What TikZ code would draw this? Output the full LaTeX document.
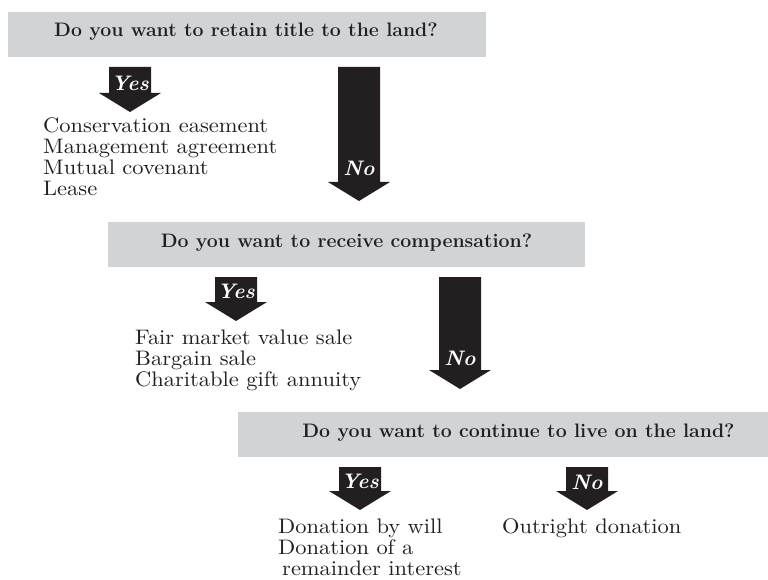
\documentclass[tikz,border=0pt]{standalone}
\usepackage{fontspec}
\usepackage{tikz}
\usetikzlibrary{calc,positioning}
\newfontfamily\listfont{lmroman10-regular.otf}[FakeStretch=1.07]
\definecolor{boxgray}{HTML}{D1D3D4}
\definecolor{ink}{HTML}{231F20}

% block arrow: top coord, tip coord, label name, label offset, label text
\newcommand{\answerarrow}[5]{%
  \fill[ink] let \p1=(#1), \p2=(#2) in
    (\x1-21pt,\y1) -- (\x1+21pt,\y1) -- (\x1+21pt,\y2+19pt) -- (\x1+31pt,\y2+19pt)
    -- (\x2,\y2) -- (\x1-31pt,\y2+19pt) -- (\x1-21pt,\y2+19pt) -- cycle;
  \node[anslabel] (#3) at ([yshift=-#4]#1) {#5};}

\begin{document}
\begin{tikzpicture}[x=1pt, y=-1pt,
    question/.style={fill=boxgray, inner sep=0pt, minimum height=45pt},
    qtext/.style={font=\fontsize{19.5}{22}\selectfont\bfseries, text=ink, anchor=base, inner sep=0pt},
    anslabel/.style={font=\fontsize{21}{24}\selectfont\bfseries\itshape, text=white, inner sep=0pt},
    options/.style={font=\listfont\fontsize{21}{21}\selectfont, text=ink, anchor=base west, inner sep=0pt}]
  \useasboundingbox (0,0) rectangle (768,580);

  % questions
  \node[question, minimum width=478pt] (q1) at (247,34.5) {};
  \node[qtext] (q1text) at (246,37) {Do you want to retain title to the land?};
  \node[question, minimum width=477pt] (q2) at (346.5,244.5) {};
  \node[qtext] (q2text) at (346.5,247) {Do you want to receive compensation?};
  \node[question, minimum width=530pt] (q3) at (503,434.5) {};
  \node[qtext] (q3text) at (518.5,437) {Do you want to continue to live on the land?};

  % answers
  \node[options] (keep) at (43,133) {\begin{tabular}[t]{@{}l@{}}Conservation easement\\ Management agreement\\ Mutual covenant\\ Lease\end{tabular}};
  \node[options] (paid) at (135,344) {\begin{tabular}[t]{@{}l@{}}Fair market value sale\\ Bargain sale\\ Charitable gift annuity\end{tabular}};
  \node[options] (stay) at (278,533) {\begin{tabular}[t]{@{}l@{}}Donation by will\\ Donation of a\\ \hspace{4pt}remainder interest\end{tabular}};
  \node[options] (leave) at (502,533) {Outright donation};

  % arrows
  \coordinate (y1top) at (130,67);  \coordinate (y1tip) at (130,112);
  \coordinate (n1top) at (359,67);  \coordinate (n1tip) at (359,201);
  \coordinate (y2top) at (236,277); \coordinate (y2tip) at (236,321);
  \coordinate (n2top) at (460,277); \coordinate (n2tip) at (460,389);
  \coordinate (y3top) at (360,467); \coordinate (y3tip) at (360,510);
  \coordinate (n3top) at (587,467); \coordinate (n3tip) at (587,510);
  \answerarrow{y1top}{y1tip}{y1}{16pt}{Yes}
  \answerarrow{n1top}{n1tip}{n1}{101.5pt}{No}
  \answerarrow{y2top}{y2tip}{y2}{14pt}{Yes}
  \answerarrow{n2top}{n2tip}{n2}{81.5pt}{No}
  \answerarrow{y3top}{y3tip}{y3}{14.5pt}{Yes}
  \answerarrow{n3top}{n3tip}{n3}{15pt}{No}
\end{tikzpicture}
\end{document}
